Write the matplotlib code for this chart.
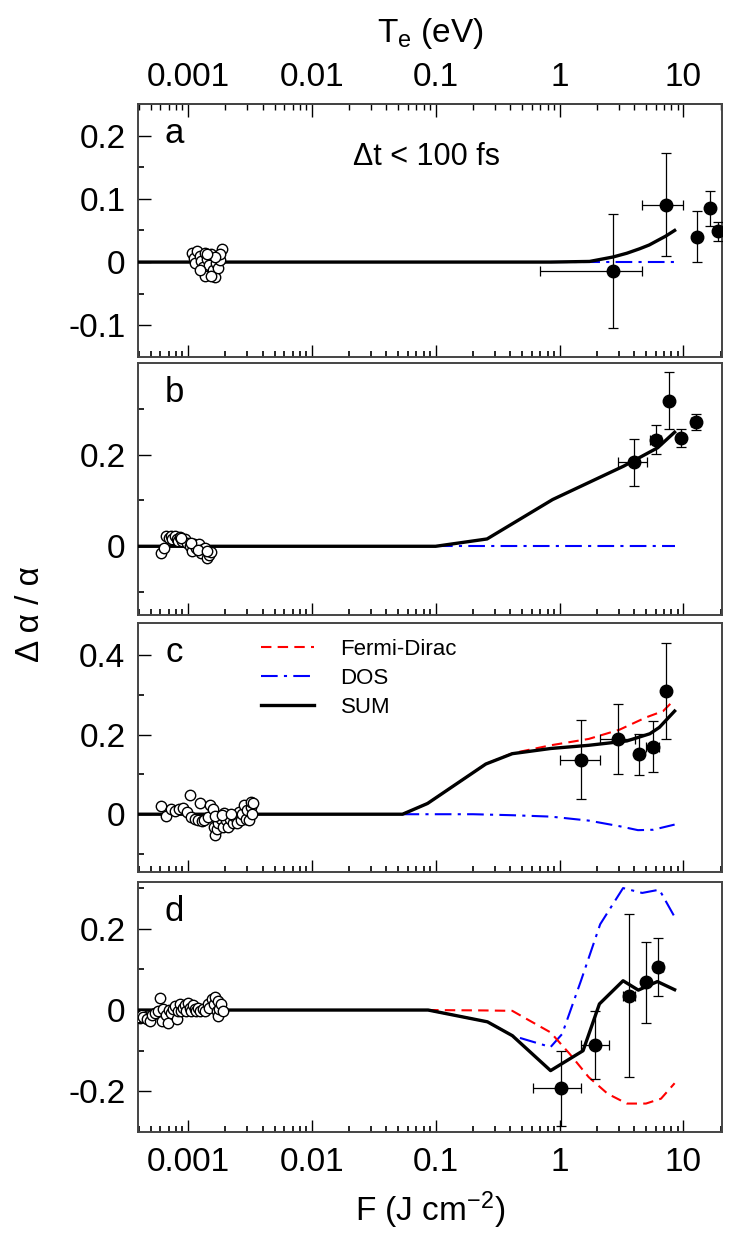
import matplotlib
matplotlib.use('Agg')
import matplotlib.pyplot as plt

plt.rcParams['font.family'] = ['Liberation Sans', 'DejaVu Sans']
plt.rcParams['mathtext.fontset'] = 'custom'
plt.rcParams['mathtext.rm'] = 'Liberation Sans'
plt.rcParams['mathtext.default'] = 'regular'

# x axis (fluence, and T_e on top of panel a)
x_ticks = [0.001, 0.01, 0.1, 1, 10]
x_tick_labels = ['0.001', '0.01', '0.1', '1', '10']

# ---- panel a ----
a_open_x = [0.00107, 0.00111, 0.00115, 0.00119, 0.00124, 0.00128, 0.00133, 0.00138, 0.00143,
            0.00148, 0.00153, 0.00159, 0.00164, 0.0017, 0.00176, 0.00183, 0.00189, 0.00183,
            0.00138, 0.00153, 0.00124, 0.00164, 0.00143]
a_open_y = [0.014, 0.006, -0.002, 0.017, 0.009, 0.001, -0.007, 0.014, 0.005, -0.004, 0.012,
            -0.012, -0.023, -0.002, -0.01, 0.004, 0.02, 0.012, -0.022, -0.022, -0.012, 0.008, 0.012]
a_pts_x = [2.68, 7.27, 12.95, 16.3, 19.2]
a_pts_y = [-0.014, 0.091, 0.040, 0.085, 0.049]
a_pts_xlo = [0.70, 4.62, 12.95, 16.3, 19.2]
a_pts_xhi = [4.62, 9.95, 12.95, 16.3, 19.2]
a_pts_yerr = [0.09, 0.082, 0.04, 0.028, 0.015]
a_sum_x = [3.9e-4, 0.85, 1.75, 2.7, 3.5, 4.43, 5.3, 6.04, 7.2, 8.5]
a_sum_y = [0, 0, 0.001, 0.008, 0.014, 0.021, 0.027, 0.033, 0.041, 0.05]
a_dos_x = [0.85, 8.5]
a_dos_y = [0, 0]

# ---- panel b ----
b_open_x = [0.000608, 0.000644, 0.000663, 0.000702, 0.000727, 0.000742, 0.00078, 0.00082,
            0.000838, 0.000868, 0.000899, 0.000945, 0.000986, 0.001036, 0.001074, 0.001112,
            0.001169, 0.00122, 0.00128, 0.00133, 0.00138, 0.00143, 0.00148, 0.00153,
            0.00088, 0.00105, 0.0012, 0.00143]
b_open_y = [-0.015, -0.004, 0.022, 0.018, 0.023, 0.015, 0.023, 0.016, 0.011, 0.020, 0.011,
            0.015, 0.007, 0.0, -0.011, 0.004, -0.004, 0.004, -0.015, -0.007, -0.004, -0.025,
            -0.018, -0.013, 0.017, 0.008, -0.008, -0.01]
b_pts_x = [3.97, 5.96, 7.64, 9.59, 12.6]
b_pts_y = [0.183, 0.233, 0.318, 0.236, 0.271]
b_pts_xlo = [2.99, 5.4, 7.64, 9.59, 11.6]
b_pts_xhi = [5.06, 6.6, 7.64, 9.59, 13.6]
b_pts_yerr = [0.052, 0.031, 0.062, 0.02, 0.018]
b_sum_x = [3.9e-4, 0.1, 0.26, 0.88, 3.3, 6.2, 8.5]
b_sum_y = [0, 0, 0.016, 0.102, 0.175, 0.215, 0.249]
b_dos_x = [0.1, 8.5]
b_dos_y = [0, 0]

# ---- panel c ----
c_open_x = [0.000601, 0.000671, 0.000726, 0.000782, 0.000842, 0.000912, 0.000982, 0.00103,
            0.00106, 0.00113, 0.0012, 0.00126, 0.00129, 0.00136, 0.00145, 0.00152, 0.00158,
            0.00161, 0.00166, 0.00172, 0.00176, 0.00185, 0.00191, 0.00197, 0.00203, 0.00209,
            0.00219, 0.00229, 0.00236, 0.00248, 0.00259, 0.00267, 0.00275, 0.00284, 0.00293,
            0.00302, 0.00311, 0.00321, 0.00325, 0.00337, 0.00331, 0.00166, 0.00187, 0.00222]
c_open_y = [0.021, -0.005, 0.0125, 0.0075, 0.012, 0.016, 0.006, 0.0475, -0.008, -0.0125,
            -0.015, 0.028, -0.017, -0.015, -0.007, 0.024, 0.012, -0.032, -0.051, -0.038,
            -0.023, -0.013, -0.032, 0.003, -0.015, -0.032, -0.011, -0.023, -0.005, -0.022,
            0.006, -0.015, 0.0, 0.0225, -0.013, 0.01, -0.015, 0.018, 0.031, 0.028, 0.0,
            -0.005, -0.002, 0.0]
c_pts_x = [1.49, 2.95, 4.39, 5.66, 7.2]
c_pts_y = [0.137, 0.189, 0.150, 0.170, 0.310]
c_pts_xlo = [1.0, 2.14, 4.1, 5.0, 7.2]
c_pts_xhi = [2.14, 4.1, 4.7, 6.3, 7.2]
c_pts_yerr = [0.1, 0.088, 0.052, 0.063, 0.12]
c_sum_x = [3.9e-4, 0.054, 0.086, 0.254, 0.416, 0.847, 1.72, 3.5, 5.36, 6.4, 8.5]
c_sum_y = [0, 0, 0.027, 0.126, 0.152, 0.165, 0.173, 0.184, 0.202, 0.218, 0.259]
c_fd_x = [0.054, 0.086, 0.254, 0.416, 0.847, 1.72, 3.04, 4.99, 6.87, 8.5]
c_fd_y = [0, 0.027, 0.126, 0.153, 0.173, 0.189, 0.212, 0.243, 0.259, 0.288]
c_dos_x = [0.054, 0.2, 0.416, 0.85, 1.72, 3.04, 4.3, 5.7, 8.5]
c_dos_y = [0, 0, -0.0025, -0.006, -0.016, -0.03, -0.04, -0.039, -0.026]

# ---- panel d ----
d_open_x = [0.00041, 0.000398, 0.000423, 0.000437, 0.000464, 0.000494, 0.000515, 0.000541,
            0.000575, 0.000593, 0.000612, 0.000631, 0.000659, 0.000684, 0.000701, 0.000736,
            0.000759, 0.000782, 0.000822, 0.000832, 0.000858, 0.000885, 0.000912, 0.00094,
            0.00097, 0.001, 0.00103, 0.00106, 0.0011, 0.00113, 0.00117, 0.0012, 0.00124,
            0.00132, 0.00138, 0.00145, 0.00149, 0.00156, 0.00161, 0.00166, 0.00172, 0.00174,
            0.00176, 0.00179, 0.00185, 0.00191]
d_open_y = [-0.019, -0.017, -0.012, -0.017, -0.023, -0.026, -0.012, -0.007, -0.002, 0.030,
            -0.026, 0.002, -0.012, -0.031, -0.001, -0.007, 0.002, 0.010, -0.023, -0.002,
            0.016, -0.002, 0.004, 0.012, -0.002, 0.018, 0.006, -0.002, 0.012, 0.002, -0.002,
            0.004, -0.002, 0.002, -0.002, 0.014, 0.004, 0.026, 0.014, 0.032, -0.002, 0.022,
            -0.015, 0.002, 0.014, -0.002]
d_pts_x = [1.03, 1.95, 3.65, 4.99, 6.27]
d_pts_y = [-0.192, -0.086, 0.035, 0.068, 0.106]
d_pts_xlo = [0.61, 1.49, 3.25, 4.99, 5.75]
d_pts_xhi = [1.49, 2.49, 4.1, 4.99, 6.85]
d_pts_yerr = [0.092, 0.084, 0.2, 0.1, 0.072]
d_sum_x = [3.9e-4, 0.087, 0.262, 0.416, 0.847, 1.55, 2.1, 3.26, 4.33, 6.17, 8.5]
d_sum_y = [0, 0, -0.029, -0.063, -0.149, -0.1, 0.015, 0.072, 0.049, 0.07, 0.05]
d_fd_x = [0.087, 0.25, 0.416, 0.515, 0.847, 1.21, 1.72, 2.45, 3.5, 4.99, 6.6, 8.5]
d_fd_y = [0, -0.001, -0.002, -0.018, -0.055, -0.108, -0.165, -0.206, -0.23, -0.23, -0.218, -0.18]
d_dos_x = [0.087, 0.262, 0.416, 0.847, 1.05, 1.49, 2.13, 3.26, 4.65, 6.4, 8.5]
d_dos_y = [0, -0.029, -0.063, -0.091, -0.059, 0.072, 0.211, 0.3, 0.288, 0.296, 0.229]

panels = [
    dict(name='a', ox=a_open_x, oy=a_open_y, px=a_pts_x, py=a_pts_y, xlo=a_pts_xlo,
         xhi=a_pts_xhi, yerr=a_pts_yerr, sx=a_sum_x, sy=a_sum_y, fx=None, fy=None,
         dx=a_dos_x, dy=a_dos_y, ylim=(-0.15, 0.25), yt=[-0.1, 0, 0.1, 0.2],
         ytl=['-0.1', '0', '0.1', '0.2'], ym=[-0.05, 0.05, 0.15]),
    dict(name='b', ox=b_open_x, oy=b_open_y, px=b_pts_x, py=b_pts_y, xlo=b_pts_xlo,
         xhi=b_pts_xhi, yerr=b_pts_yerr, sx=b_sum_x, sy=b_sum_y, fx=None, fy=None,
         dx=b_dos_x, dy=b_dos_y, ylim=(-0.15, 0.4), yt=[0, 0.2],
         ytl=['0', '0.2'], ym=[-0.1, 0.1, 0.3]),
    dict(name='c', ox=c_open_x, oy=c_open_y, px=c_pts_x, py=c_pts_y, xlo=c_pts_xlo,
         xhi=c_pts_xhi, yerr=c_pts_yerr, sx=c_sum_x, sy=c_sum_y, fx=c_fd_x, fy=c_fd_y,
         dx=c_dos_x, dy=c_dos_y, ylim=(-0.145, 0.48), yt=[0, 0.2, 0.4],
         ytl=['0', '0.2', '0.4'], ym=[-0.1, 0.1, 0.3]),
    dict(name='d', ox=d_open_x, oy=d_open_y, px=d_pts_x, py=d_pts_y, xlo=d_pts_xlo,
         xhi=d_pts_xhi, yerr=d_pts_yerr, sx=d_sum_x, sy=d_sum_y, fx=d_fd_x, fy=d_fd_y,
         dx=d_dos_x, dy=d_dos_y, ylim=(-0.3, 0.315), yt=[-0.2, 0, 0.2],
         ytl=['-0.2', '0', '0.2'], ym=[-0.1, 0.1, 0.3]),
]

# axes boxes in figure fraction (left, bottom, width, height)
boxes = [(0.1885, 0.7105, 0.7978, 0.2052),
         (0.1885, 0.5012, 0.7978, 0.2044),
         (0.1885, 0.2928, 0.7978, 0.2019),
         (0.1885, 0.0819, 0.7978, 0.2028)]

RED = '#ff0000'
BLUE = '#0000ff'
SPINE = '#444444'

fig = plt.figure(figsize=(7.32, 12.33), dpi=100)

for p, box in zip(panels, boxes):
    ax = fig.add_axes(box)
    ax.set_xscale('log')
    ax.set_xlim(3.95e-4, 20.5)
    ax.set_ylim(*p['ylim'])

    ax.plot(p['dx'], p['dy'], color=BLUE, lw=1.5, dashes=(8, 3, 1.5, 3), zorder=2,
            label='DOS')
    if p['fx'] is not None:
        ax.plot(p['fx'], p['fy'], color=RED, lw=1.5, dashes=(5, 3), zorder=2,
                label='Fermi-Dirac')
    ax.plot(p['sx'], p['sy'], color='black', lw=2.4, zorder=3, label='SUM')

    ax.plot(p['ox'], p['oy'], 'o', ms=7.5, mfc='white', mec='black', mew=1.0, zorder=4)
    xerr = [[x - lo for x, lo in zip(p['px'], p['xlo'])],
            [hi - x for x, hi in zip(p['px'], p['xhi'])]]
    ax.errorbar(p['px'], p['py'], xerr=xerr, yerr=p['yerr'], fmt='o', ms=9,
                color='black', ecolor='black', elinewidth=0.9, capsize=3.5,
                capthick=0.9, zorder=5)

    ax.set_xticks(x_ticks)
    ax.set_xticklabels(x_tick_labels if p['name'] == 'd' else [])
    ax.set_yticks(p['yt'])
    ax.set_yticklabels(p['ytl'])
    ax.set_yticks(p['ym'], minor=True)
    ax.tick_params(axis='both', which='both', direction='in', labelsize=24,
                   top=False, right=False, color='black')
    ax.tick_params(axis='both', which='major', length=9, width=1.0)
    ax.tick_params(axis='both', which='minor', length=4, width=1.2)
    ax.tick_params(axis='x', which='major', pad=11)
    ax.tick_params(axis='y', which='major', pad=9)
    for s in ax.spines.values():
        s.set_color(SPINE)
        s.set_linewidth(1.4)

    ax.text(0.062, 0.882, p['name'], transform=ax.transAxes, fontsize=25,
            ha='center', va='center')

    if p['name'] == 'a':
        # x in axes fraction, y in data units
        ax.text(0.494, 0.1655, 'Δt < 100 fs', transform=ax.get_yaxis_transform(),
                fontsize=22, ha='center', va='center')
        top = ax.secondary_xaxis('top')
        top.set_xticks(x_ticks)
        top.set_xticklabels(x_tick_labels)
        top.tick_params(axis='x', which='both', direction='in', labelsize=24, pad=8)
        top.tick_params(axis='x', which='major', length=9, width=1.0)
        top.tick_params(axis='x', which='minor', length=4, width=1.0)
        top.spines['top'].set_color(SPINE)
        top.spines['top'].set_linewidth(1.4)
        top.set_xlabel('T$_e$ (eV)', fontsize=24, labelpad=14)
    if p['name'] == 'c':
        h, l = ax.get_legend_handles_labels()
        order = [l.index('Fermi-Dirac'), l.index('DOS'), l.index('SUM')]
        ax.legend([h[i] for i in order], [l[i] for i in order], loc='upper left',
                  bbox_to_anchor=(0.21, 0.935), frameon=False, fontsize=16,
                  borderpad=0, borderaxespad=0, handlelength=2.4, handletextpad=1.2,
                  labelspacing=0.35)
    if p['name'] == 'd':
        ax.set_xlabel('F (J cm$^{-2}$)', fontsize=24, labelpad=8)

fig.text(0.041, 0.502, 'Δ α / α', rotation=90, fontsize=24, ha='center', va='center')

fig.savefig('out.png', dpi=100)
